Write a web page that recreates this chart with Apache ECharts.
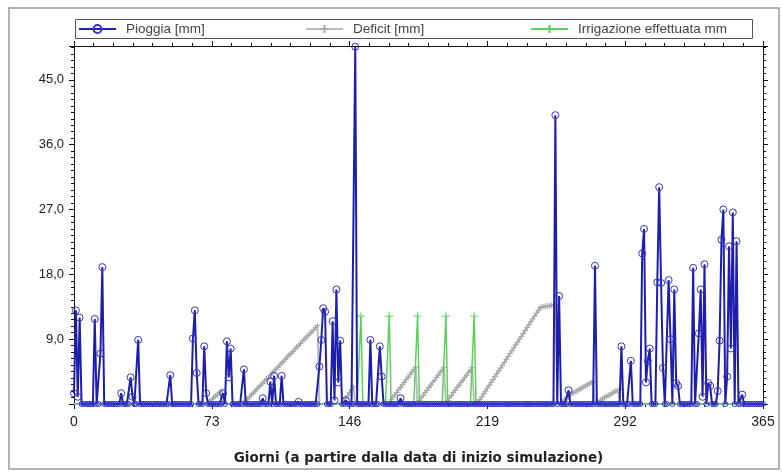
<!DOCTYPE html>
<html>
<head>
<meta charset="utf-8">
<script src="https://cdn.jsdelivr.net/npm/echarts@6/dist/echarts.min.js"></script>
<style>
html,body{margin:0;padding:0;background:#fff;}
#chart{width:782px;height:474px;}
</style>
</head>
<body>
<div id="chart"></div>
<script>
// ---- data ----
const dayMax = 365;
const xTicks = [0, 73, 146, 219, 292, 365];
const yTickStep = 9;

// Pioggia [mm]: rainy days and amounts (all other days 0)
const rainDays = [0,1,2,3,11,14,15,25,30,31,34,51,63,64,65,69,70,79,81,82,83,90,100,104,106,110,119,
  130,131,132,133,137,138,139,140,141,144,149,157,162,163,173,255,257,262,276,290,295,
  301,302,303,304,305,309,310,311,312,315,316,318,319,320,328,331,332,333,334,336,337,
  341,342,343,344,346,347,348,349,351,354];
const rainMm = [1.5,13.0,1.0,12.0,11.8,7.0,19.0,1.5,3.7,1.0,8.9,4.0,9.1,13.0,4.3,8.0,1.5,1.5,8.7,3.7,7.7,4.8,0.8,3.1,3.9,3.9,0.3,
  5.2,8.9,13.3,12.8,11.5,0.5,15.9,3.0,8.8,0.5,49.6,8.9,8.0,3.8,0.8,40.1,15.0,1.9,19.2,8.0,6.0,
  20.9,24.3,3.0,6.0,7.7,16.9,30.1,16.8,5.0,17.2,9.0,15.9,2.9,2.5,18.9,9.8,15.9,1.0,19.4,2.9,2.5,
  1.8,8.8,22.8,27.0,3.8,21.9,7.7,26.6,22.6,1.3];

// Irrigazione effettuata mm
const irrDays = [152, 167, 182, 197, 212];
const irrMm = [12.2, 12.2, 12.2, 12.2, 12.2];

// Deficit [mm]: runs of consecutive days starting at deficitStart[i]
const deficitStart = [71, 90, 143, 168, 183, 198, 214, 259, 278];
const deficitRun0 = [0.2,0.4,0.6,0.9,1.1,1.3,1.6,1.8];
const deficitRun1 = [0.2,0.5,0.7,1.0,1.3,1.5,1.8,2.1,2.4,2.6,2.9,3.2,3.5,3.7,4.0,4.3,4.6,4.8,5.1,5.4,
  5.7,5.9,6.2,6.5,6.8,7.0,7.3,7.6,7.9,8.1,8.4,8.7,9.0,9.2,9.5,9.8,10.0,10.3,10.6,10.9];
const deficitRun2 = [0.4,0.8,1.2,1.6,2.0,2.4];
const deficitRun3 = [0.6,1.0,1.3,1.6,2.0,2.3,2.7,3.0,3.4,3.7,4.1,4.4,4.8,5.1];
const deficitRun4 = [0.5,0.9,1.2,1.6,1.9,2.3,2.6,3.0,3.3,3.7,4.0,4.4,4.7,5.1];
const deficitRun5 = [0.5,0.9,1.2,1.6,1.9,2.3,2.6,3.0,3.3,3.7,4.0,4.4,4.7,5.1];
const deficitRun6 = [0.2,0.6,1.0,1.4,1.8,2.2,2.6,3.0,3.4,3.8,4.2,4.6,5.0,5.4,5.8,6.2,6.6,7.0,7.4,7.8,
  8.2,8.6,9.0,9.4,9.8,10.2,10.6,11.0,11.4,11.8,12.2,12.6,13.0,13.4,13.5,13.5,13.6,13.6,13.6,13.7,13.7,13.7];
const deficitRun7 = [0.3,0.6,0.9,1.0,1.3,1.5,1.6,1.8,1.9,2.1,2.2,2.4,2.5,2.7,2.8,3.0,3.1];
const deficitRun8 = [0.3,0.5,0.7,0.9,1.0,1.2,1.3,1.5,1.6,1.8,1.9,2.0];
const deficitRuns = [deficitRun0,deficitRun1,deficitRun2,deficitRun3,deficitRun4,deficitRun5,deficitRun6,deficitRun7,deficitRun8];

// ---- build daily series ----
function daily(daysArr, valsArr) {
  const m = new Map();
  daysArr.forEach((d, i) => m.set(d, valsArr[i]));
  const out = [];
  for (let d = 0; d <= dayMax; d++) out.push([d, m.has(d) ? m.get(d) : 0]);
  return out;
}
const rainData = daily(rainDays, rainMm);
const irrData = daily(irrDays, irrMm);
const defD = [], defV = [];
deficitStart.forEach((s, i) => deficitRuns[i].forEach((v, j) => { defD.push(s + j); defV.push(v); }));
const defData = daily(defD, defV);

const plus = 'path://M0,5L10,5M5,0L5,10';
const fmt = v => v.toFixed(1).replace('.', ',');
const axisCol = '#111';

const chart = echarts.init(document.getElementById('chart'), null, {renderer: 'canvas'});
const commonX = {
  type: 'value', min: 0, max: dayMax, interval: xTicks[1] - xTicks[0],
  axisLine: {show: true, onZero: false, lineStyle: {color: axisCol, width: 1}},
  axisTick: {show: true, length: 5, lineStyle: {color: axisCol}},
  minorTick: {show: true, splitNumber: 7, length: 3, lineStyle: {color: axisCol}},
  splitLine: {show: false}
};
const commonY = {
  type: 'value', min: 0, max: 49.7, interval: yTickStep,
  axisLine: {show: true, onZero: false, lineStyle: {color: axisCol, width: 1}},
  axisTick: {show: true, length: 5, lineStyle: {color: axisCol}},
  minorTick: {show: true, splitNumber: 10, length: 3, lineStyle: {color: axisCol}},
  splitLine: {show: false}
};
const legendCommon = {
  top: 22, itemWidth: 37, itemHeight: 10, selectedMode: false, padding: 0,
  textStyle: {fontFamily: 'Liberation Sans', fontSize: 13.5, color: '#444', padding: [0, 0, 0, 5]}
};

chart.setOption({
  animation: false,
  backgroundColor: '#fff',
  textStyle: {fontFamily: 'Liberation Sans'},
  grid: {left: 74, right: 19, top: 46, bottom: 70, containLabel: false},
  graphic: [
    {type: 'rect', shape: {x: 9, y: 8, width: 770, height: 461}, style: {fill: 'none', stroke: '#9a9a9a', lineWidth: 1.5}, silent: true},
    {type: 'rect', shape: {x: 75.5, y: 19.5, width: 677, height: 19}, style: {fill: '#fff', stroke: '#555', lineWidth: 1}, silent: true, z: -1}
  ],
  legend: [
    Object.assign({left: 78, data: ['Pioggia [mm]']}, legendCommon),
    Object.assign({left: 305, data: ['Deficit [mm]']}, legendCommon),
    Object.assign({left: 530, data: ['Irrigazione effettuata mm']}, legendCommon)
  ],
  xAxis: [
    Object.assign({}, commonX, {
      position: 'bottom',
      axisLabel: {show: true, fontSize: 14, color: '#222', margin: 11},
      name: 'Giorni (a partire dalla data di inizio simulazione)',
      nameLocation: 'middle', nameGap: 47,
      nameTextStyle: {fontFamily: 'DejaVu Sans', fontSize: 13.5, fontWeight: 'bold', color: '#222'}
    }),
    Object.assign({}, commonX, {position: 'top', axisLabel: {show: false}})
  ],
  yAxis: [
    Object.assign({}, commonY, {
      position: 'left',
      axisLabel: {show: true, fontSize: 13, color: '#222', margin: 10, formatter: fmt, showMinLabel: false, showMaxLabel: false}
    }),
    Object.assign({}, commonY, {position: 'right', axisLabel: {show: false}})
  ],
  series: [
    {
      name: 'Deficit [mm]', type: 'line', data: defData, z: 2,
      symbol: plus, symbolSize: v => v[1] > 0 ? 6 : 0, showAllSymbol: true,
      lineStyle: {color: '#bcbcbc', width: 2},
      itemStyle: {color: '#a8a8a8', borderColor: '#a8a8a8', borderWidth: 1}
    },
    {
      name: 'Irrigazione effettuata mm', type: 'line', data: irrData, z: 3,
      symbol: plus, symbolSize: v => v[1] > 0 ? 8 : 0, showAllSymbol: true,
      lineStyle: {color: '#5ad25a', width: 1.5},
      itemStyle: {color: '#5ad25a', borderColor: '#5ad25a', borderWidth: 1}
    },
    {
      name: 'Pioggia [mm]', type: 'line', data: rainData, z: 4,
      symbol: 'circle', symbolSize: v => v[1] > 0 ? 7 : 5, showAllSymbol: true,
      lineStyle: {color: '#1e1eae', width: 2},
      itemStyle: {color: 'rgba(0,0,0,0)', borderColor: '#3434c8', borderWidth: 1}
    }
  ]
});
</script>
</body>
</html>
